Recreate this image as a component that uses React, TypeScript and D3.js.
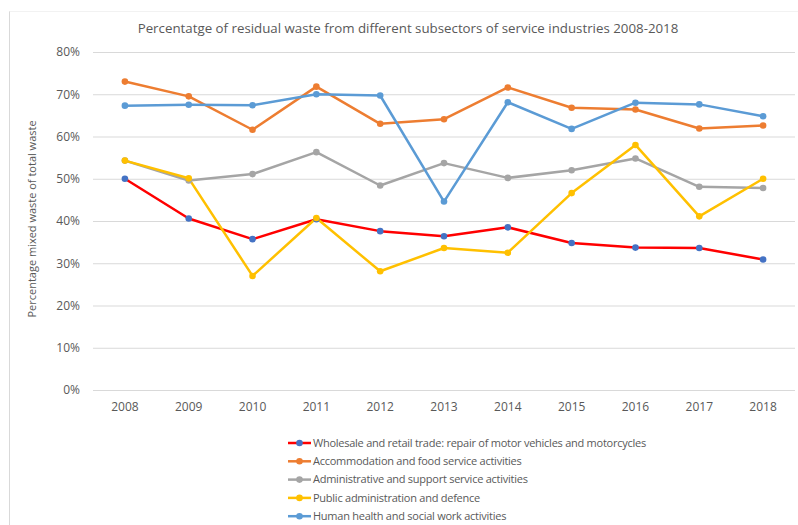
import React, { useEffect, useRef } from "react";
import * as d3 from "d3";

const years = ["2008", "2009", "2010", "2011", "2012", "2013", "2014", "2015", "2016", "2017", "2018"];

const wholesale = [50.0, 40.6, 35.7, 40.4, 37.6, 36.4, 38.5, 34.8, 33.7, 33.6, 30.9];
const accommodation = [73.0, 69.5, 61.6, 71.8, 63.0, 64.1, 71.6, 66.8, 66.4, 61.9, 62.6];
const administrative = [54.3, 49.6, 51.1, 56.3, 48.4, 53.7, 50.2, 52.0, 54.8, 48.1, 47.8];
const publicAdmin = [54.3, 50.1, 27.0, 40.7, 28.1, 33.6, 32.5, 46.6, 58.0, 41.1, 50.0];
const health = [67.3, 67.5, 67.4, 70.0, 69.7, 44.6, 68.1, 61.8, 68.0, 67.6, 64.8];

const yTicks = [0, 10, 20, 30, 40, 50, 60, 70, 80];

const seriesNames = [
  "Wholesale and retail trade: repair of motor vehicles and motorcycles",
  "Accommodation and food service activities",
  "Administrative and support service activities",
  "Public administration and defence",
  "Human health and social work activities",
];

const lineColors = ["#FF0000", "#ED7D31", "#A5A5A5", "#FFC000", "#5B9BD5"];
const markerColors = ["#4472C4", "#ED7D31", "#A5A5A5", "#FFC000", "#5B9BD5"];

const FONT = "'Open Sans', 'Noto Sans', sans-serif";

const App = () => {
  const ref = useRef<SVGSVGElement>(null);

  useEffect(() => {
    const width = 798;
    const height = 525;
    const margin = { top: 52, right: 3, bottom: 135, left: 93 };
    const plotW = width - margin.left - margin.right;
    const plotH = height - margin.top - margin.bottom;

    const allSeries = [wholesale, accommodation, administrative, publicAdmin, health];

    const svg = d3.select(ref.current);
    svg.selectAll("*").remove();
    svg.attr("width", width).attr("height", height);

    svg.append("rect").attr("width", width).attr("height", height).attr("fill", "#fff");

    // chart area border (left + top visible)
    svg.append("line")
      .attr("x1", 9.5).attr("x2", 9.5).attr("y1", 11).attr("y2", height)
      .attr("stroke", "#d9d9d9");
    svg.append("line")
      .attr("x1", 9.5).attr("x2", width).attr("y1", 11.5).attr("y2", 11.5)
      .attr("stroke", "#f2f2f2");

    svg.append("text")
      .attr("x", 408)
      .attr("y", 33)
      .attr("text-anchor", "middle")
      .attr("font-family", FONT)
      .attr("font-size", 13.3)
      .attr("fill", "#595959")
      .text("Percentatge of residual waste from different subsectors of service industries 2008-2018");

    const x = d3.scaleBand().domain(years).range([0, plotW]);
    const y = d3.scaleLinear().domain([0, 80]).range([plotH, 0]);

    const g = svg.append("g").attr("transform", `translate(${margin.left},${margin.top})`);

    // y axis + gridlines
    const yAxis = d3.axisLeft(y)
      .tickValues(yTicks)
      .tickSize(-plotW)
      .tickPadding(13)
      .tickFormat((d) => `${d}%`);
    g.append("g")
      .call(yAxis)
      .call((a) => a.select(".domain").remove())
      .call((a) => a.selectAll(".tick line").attr("stroke", "#d9d9d9"))
      .call((a) =>
        a.selectAll(".tick text")
          .attr("fill", "#595959")
          .attr("font-family", FONT)
          .attr("font-size", 12)
      );

    // x axis
    g.append("g")
      .attr("transform", `translate(0,${plotH})`)
      .call(d3.axisBottom(x).tickSize(0).tickPadding(12))
      .call((a) => a.select(".domain").remove())
      .call((a) =>
        a.selectAll(".tick text")
          .attr("fill", "#595959")
          .attr("font-family", FONT)
          .attr("font-size", 12)
      );

    svg.append("text")
      .attr("transform", `translate(36,${margin.top + plotH / 2 - 2}) rotate(-90)`)
      .attr("text-anchor", "middle")
      .attr("font-family", FONT)
      .attr("font-size", 11)
      .attr("fill", "#595959")
      .text("Percentage mixed waste of total waste");

    const cx = (i: number) => (x(years[i]) as number) + x.bandwidth() / 2;
    const line = d3.line<number>().x((_, i) => cx(i)).y((d) => y(d));

    allSeries.forEach((vals, s) => {
      g.append("path")
        .datum(vals)
        .attr("d", line)
        .attr("fill", "none")
        .attr("stroke", lineColors[s])
        .attr("stroke-width", 2.5)
        .attr("stroke-linejoin", "round");
    });
    allSeries.forEach((vals, s) => {
      g.selectAll(null)
        .data(vals)
        .join("circle")
        .attr("cx", (_, i) => cx(i))
        .attr("cy", (d) => y(d))
        .attr("r", 3.3)
        .attr("fill", markerColors[s]);
    });

    // legend
    const legend = svg.append("g").attr("transform", "translate(288,443)");
    seriesNames.forEach((name, i) => {
      const row = legend.append("g").attr("transform", `translate(0,${i * 18.3})`);
      row.append("line")
        .attr("x1", 0).attr("x2", 23).attr("y1", 0).attr("y2", 0)
        .attr("stroke", lineColors[i]).attr("stroke-width", 2.5);
      row.append("circle").attr("cx", 11.5).attr("cy", 0).attr("r", 3.3).attr("fill", markerColors[i]);
      row.append("text")
        .attr("x", 25)
        .attr("y", 0)
        .attr("dy", "0.35em")
        .attr("font-family", FONT)
        .attr("font-size", 11)
        .attr("letter-spacing", -0.25)
        .attr("fill", "#595959")
        .text(name);
    });
  }, []);

  return (
    <div style={{ position: "absolute", left: 0, top: 0 }}>
      <svg ref={ref}></svg>
    </div>
  );
};

export default App;
